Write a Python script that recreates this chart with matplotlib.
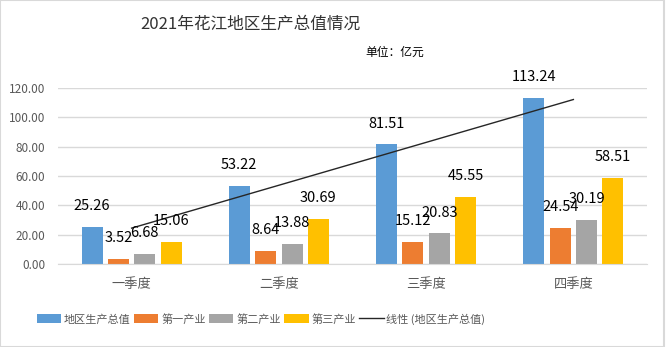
import numpy as np
import matplotlib.pyplot as plt
from matplotlib.patches import Rectangle

plt.rcParams['font.family'] = ['Noto Sans CJK SC', 'DejaVu Sans']

quarters = ['一季度', '二季度', '三季度', '四季度']
series_names = ['地区生产总值', '第一产业', '第二产业', '第三产业']
gdp = [25.26, 53.22, 81.51, 113.24]
primary = [3.52, 8.64, 15.12, 24.54]
secondary = [6.68, 13.88, 20.83, 30.19]
tertiary = [15.06, 30.69, 45.55, 58.51]
colors = ['#5b9bd5', '#ed7d31', '#a5a5a5', '#ffc000']

fig = plt.figure(figsize=(6.66, 3.47), dpi=100)
ax = fig.add_axes([58 / 666, 1 - 264 / 347, 589 / 666, 176 / 347])

x = np.arange(len(quarters))
step = 0.179
width = 0.143
all_vals = [gdp, primary, secondary, tertiary]
for i, (vals, name, c) in enumerate(zip(all_vals, series_names, colors)):
    pos = x + (i - 1.5) * step
    ax.bar(pos, vals, width, color=c, label=name, zorder=2)
    for px, v in zip(pos, vals):
        ax.annotate(f'{v:.2f}', (px, v), xytext=(0, 15), textcoords='offset points',
                    ha='center', va='center', fontsize=10.5, color='black', zorder=4)

# linear trendline of total GDP
k, b = np.polyfit(x + 1, gdp, 1)
ax.plot(x, k * (x + 1) + b, color='#262626', lw=1.0, zorder=3,
        label='线性 (地区生产总值)')

ax.set_xlim(-0.5, 3.5)
ax.set_ylim(0, 120)
ax.set_yticks(np.arange(0, 121, 20))
ax.set_yticklabels([f'{t:.2f}' for t in np.arange(0, 121, 20)])
ax.set_xticks(x)
ax.set_xticklabels(quarters)
ax.tick_params(axis='both', length=0, colors='#595959')
ax.tick_params(axis='x', pad=10, labelsize=9.5)
ax.tick_params(axis='y', pad=9, labelsize=8.5)
ax.yaxis.grid(True, color='#d9d9d9', lw=1, zorder=0)
for s in ['left', 'right', 'top']:
    ax.spines[s].set_visible(False)
ax.spines['bottom'].set_color('#d9d9d9')

handles, labels = ax.get_legend_handles_labels()
order = [1, 2, 3, 4, 0]
fig.legend([handles[i] for i in order], [labels[i] for i in order],
           loc='center', bbox_to_anchor=(261 / 666, 1 - 319 / 347), ncol=5, frameon=False,
           fontsize=8, labelcolor='#595959', handlelength=2.2, handleheight=0.9,
           handletextpad=0.25, columnspacing=0.3)

fig.text(250 / 666, 1 - 24 / 347, '2021年花江地区生产总值情况', ha='center', va='center',
         fontsize=12, color='#333333')
fig.text(365 / 666, 1 - 52 / 347, '单位：亿元', ha='left', va='center',
         fontsize=8.5, color='black')

fig.add_artist(Rectangle((0, 0), 1 - 2 / 666, 1, transform=fig.transFigure,
                         fill=False, edgecolor='#d9d9d9', lw=1.5))

fig.savefig('out.png', dpi=100)
